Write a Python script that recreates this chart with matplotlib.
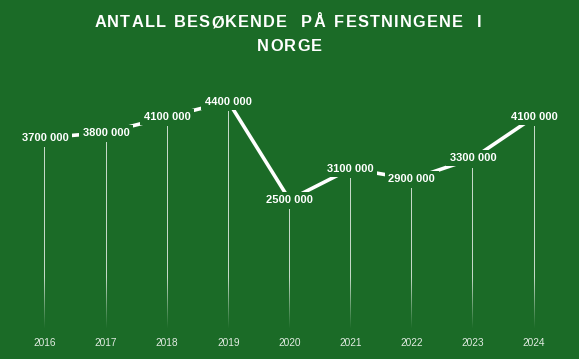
import matplotlib
matplotlib.use("Agg")
import matplotlib.pyplot as plt
import numpy as np
from matplotlib.path import Path
from matplotlib import font_manager
from matplotlib.ft2font import FT2Font

years = [2016, 2017, 2018, 2019, 2020, 2021, 2022, 2023, 2024]
visitors = [3700000, 3800000, 4100000, 4400000, 2500000, 3100000, 2900000, 3300000, 4100000]
labels = ["3700 000", "3800 000", "4100 000", "4400 000", "2500 000",
          "3100 000", "2900 000", "3300 000", "4100 000"]
title_line1 = ["ANTALL", "BESØKENDE", "PÅ", "FESTNINGENE", "I"]
title_line2 = ["NORGE"]

BG = "#1b6b27"
W, H = 579, 359
DPI = 100
fig = plt.figure(figsize=(W / DPI, H / DPI), dpi=DPI, facecolor=BG)

zero_px = 329
top_px = 40
px_per_m = 51.7
ax = fig.add_axes([0, (H - zero_px) / H, 1, (zero_px - top_px) / H])
ax.set_facecolor(BG)
ymax = (zero_px - top_px) / px_per_m * 1e6
step = 61.25
ax.axis("off")

# fading drop lines starting just below each label (gradient images)
gap = 0.19e6
fade_start = 1.0e6
half_w = 0.5 / step
for x, v in zip(years, visitors):
    top = v - gap
    n = 300
    ys = np.linspace(top, 0, n)
    alpha = np.clip(ys / fade_start, 0, 1) * 0.75
    img = np.ones((n, 1, 4))
    img[:, 0, 3] = alpha
    ax.imshow(img, extent=[x - half_w, x + half_w, 0, top], origin="upper",
              aspect="auto", interpolation="bilinear", zorder=1)

ax.set_xlim(years[0] - 45 / step, years[-1] + 45 / step)
ax.set_ylim(0, ymax)

ax.plot(years, visitors, color="white", lw=2.6, solid_capstyle="butt", zorder=2)


def label_box(x0, y0, width, height, mutation_size):
    cx = x0 + width / 2
    cy = y0 + height / 2
    hw = width / 2 + 3.5
    hh = 8.0
    return Path([(cx - hw, cy - hh), (cx + hw, cy - hh), (cx + hw, cy + hh),
                 (cx - hw, cy + hh), (cx - hw, cy - hh)], closed=True)


label_font = ["Liberation Sans", "DejaVu Sans"]
for x, v, t in zip(years, visitors, labels):
    ax.text(x, v, t, ha="center", va="center", fontsize=8.0, fontweight="bold",
            color="white", family=label_font, zorder=3,
            bbox=dict(boxstyle=label_box, fc=BG, ec="none"))

xl = ax.get_xlim()
for x in years:
    fig.text((x - xl[0]) / (xl[1] - xl[0]), (H - 343) / H, str(x),
             ha="center", va="center", fontsize=7.3,
             color="#e2ebe2", family=label_font)

# letter-spaced title, drawn glyph by glyph
fpath = font_manager.findfont(font_manager.FontProperties(family="Liberation Sans", weight="bold"))
ft = FT2Font(fpath)
tsize = 11.8
ft.set_size(tsize, DPI)


def adv(ch):
    g = ft.load_char(ord(ch))
    return g.linearHoriAdvance / 65536.0


def draw_word(word, cx_px, cy_px, spacing):
    widths = [adv(c) for c in word]
    total = sum(widths) + spacing * (len(word) - 1)
    x = cx_px - total / 2
    for c, w in zip(word, widths):
        fig.text(x / W, (H - cy_px) / H, c, ha="left", va="center_baseline",
                 fontsize=tsize, fontweight="bold", color="white", family=label_font)
        x += w + spacing


centers1 = [130, 230.5, 313, 398.5, 479.5]
for wd, c in zip(title_line1, centers1):
    draw_word(wd, c, 21, 1.2)
draw_word(title_line2[0], 289.5, 45, 1.2)

fig.savefig("out.png", dpi=DPI, facecolor=BG)
